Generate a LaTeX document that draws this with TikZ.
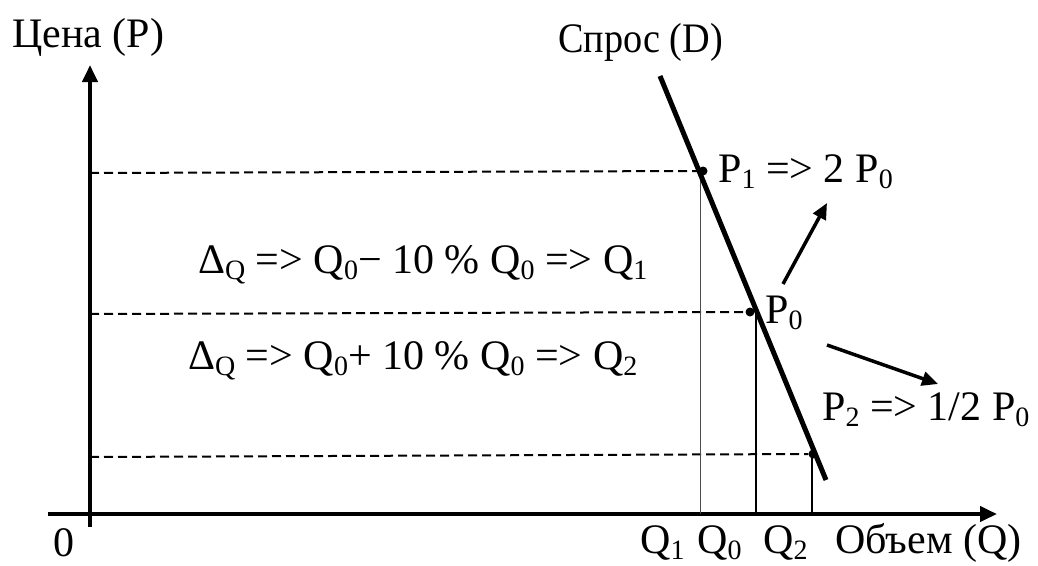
\documentclass[tikz,border=0pt]{standalone}
\usepackage{fontspec}
\setmainfont{Liberation Serif}
\usetikzlibrary{arrows.meta}
\newcommand\sbs[1]{\raisebox{-6pt}{\fontsize{28}{28}\selectfont #1}}
\begin{document}
\begin{tikzpicture}[x=1pt,y=-1pt,
  lbl/.style={inner sep=0pt, anchor=base west, font=\fontsize{42}{50}\selectfont},
  axisline/.style={line width=4pt, -{Triangle[length=17pt,width=15pt]}},
  guide/.style={line width=2pt, dash pattern=on 9pt off 5pt},
  drop/.style={line width=1.3pt},
  dropthin/.style={line width=0.8pt, black!70},
  demand/.style={line width=5pt},
  pt/.style={circle, fill=black, inner sep=0pt, minimum size=9pt},
  move/.style={line width=3.5pt, -{Triangle[length=16pt,width=14pt]}}
]
\useasboundingbox (0,0) rectangle (1038,565);
% axes
\coordinate (ybot) at (90,527);
\coordinate (ytop) at (90,65);
\coordinate (xleft) at (48,514);
\coordinate (xright) at (997,514);
\draw[axisline] (ybot) -- (ytop);
\draw[axisline] (xleft) -- (xright);
% axis feet
\coordinate (a1) at (90,173);
\coordinate (a0) at (90,314);
\coordinate (a2) at (90,457);
\coordinate (q1b) at (700,514);
\coordinate (q0b) at (756,514);
\coordinate (q2b) at (812,514);
\coordinate (q1t) at (700,173);
\coordinate (q0t) at (756,314);
\coordinate (q2t) at (812,457);
% points
\node[pt] (P1) at (703,171) {};
\node[pt] (P0) at (750,312) {};
\node[pt] (P2) at (813,454) {};
% guides
\draw[guide] (a1) -- (P1.west);
\draw[guide] (a0) -- (P0.west);
\draw[guide] (a2) -- (P2.west);
\draw[dropthin] (q1t) -- (q1b);
\draw[drop] (q0t) -- (q0b);
\draw[drop] (q2t) -- (q2b);
% demand line
\coordinate (dtop) at (660,76);
\coordinate (dbot) at (826,480);
\draw[demand] (dtop) -- (dbot);
% movement arrows
\coordinate (m1s) at (783,284);
\coordinate (m1e) at (827,203);
\coordinate (m2s) at (827,345);
\coordinate (m2e) at (938,384);
\draw[move] (m1s) -- (m1e);
\draw[move] (m2s) -- (m2e);
% labels
\node[lbl] (ylab) at (12,47) {Цена (P)};
\node[lbl] (dlab) at (558,52) {\scalebox{0.91}[1]{Спрос (D)}};
\node[lbl] (p1lab) at (718,182) {P\sbs{1} => 2 P\sbs{0}};
\node[lbl] (d1lab) at (198,273) {Δ\sbs{Q} => Q\sbs{0}− 10 \% Q\sbs{0} => Q\sbs{1}};
\node[lbl] (d2lab) at (188,369) {Δ\sbs{Q} => Q\sbs{0}+ 10 \% Q\sbs{0} => Q\sbs{2}};
\node[lbl] (p0lab) at (765,323) {P\sbs{0}};
\node[lbl] (p2lab) at (822,420) {P\sbs{2} => 1/2 P\sbs{0}};
\node[lbl] (q1lab) at (640,553) {Q\sbs{1}};
\node[lbl] (q0lab) at (697,553) {Q\sbs{0}};
\node[lbl] (q2lab) at (763,553) {Q\sbs{2}};
\node[lbl] (xlab) at (835,553) {Объем (Q)};
\node[lbl] (zero) at (53,556) {0};
\end{tikzpicture}
\end{document}
